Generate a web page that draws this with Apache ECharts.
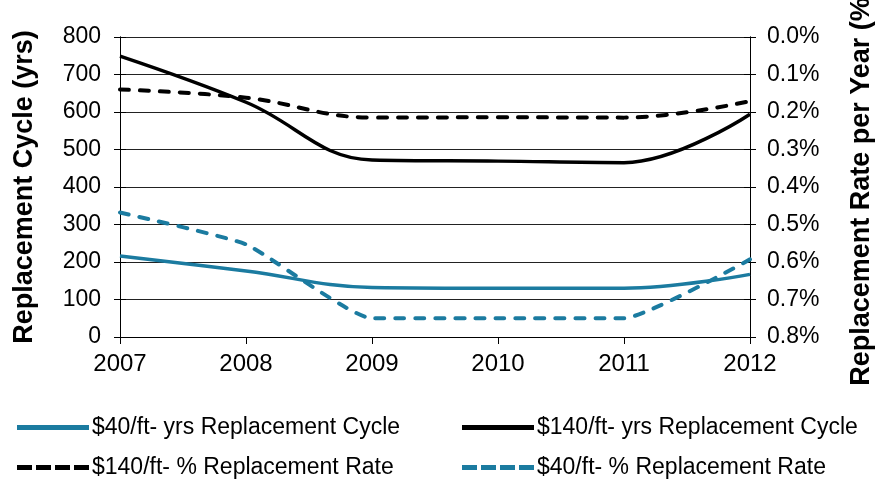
<!DOCTYPE html>
<html><head><meta charset="utf-8">
<script src="https://cdn.jsdelivr.net/npm/echarts@6/dist/echarts.min.js"></script>
<style>html,body{margin:0;padding:0;background:#fff;overflow:hidden}#c{width:875px;height:479px}</style>
</head><body><div id="c"></div>
<script>
const years = ['2007','2008','2009','2010','2011','2012'];
const cycle40 = [216, 176, 132, 130, 130, 167];
const cycle140 = [749, 626, 472, 469, 465, 594];
const rate140 = [0.140, 0.162, 0.215, 0.214, 0.215, 0.171];
const rate40 = [0.468, 0.553, 0.750, 0.750, 0.750, 0.593];
const leftTicks = [0, 100, 200, 300, 400, 500, 600, 700, 800];
const rightTicks = [0.0, 0.1, 0.2, 0.3, 0.4, 0.5, 0.6, 0.7, 0.8];

const teal = '#1B7BA0';
const font = 'Liberation Sans, Arial, sans-serif';
const solidIcon = 'path://M0,0h72v5h-72z';
const dashIcon = 'path://M0,0h15v5h-15zM19,0h15v5h-15zM38,0h15v5h-15zM57,0h15v5h-15z';
const chart = echarts.init(document.getElementById('c'));
const legendBase = {orient:'horizontal', itemWidth:72, itemHeight:5, itemGap:0,
  textStyle:{fontFamily:font, fontSize:23, color:'#000', padding:[0,0,0,-2]}};
function leg(left, top, name, icon){
  return Object.assign({left:left, top:top, data:[{name:name, icon:icon}]}, legendBase);
}
const tickAxisCommon = {axisLine:{show:true, lineStyle:{color:'#000'}}, splitLine:{show:false}, axisLabel:{show:false}};
chart.setOption({
  animation:false,
  grid:{left:120, right:125, top:37, bottom:142, containLabel:false, outerBoundsMode:'none'},
  legend:[
    leg(12, 411, '$40/ft- yrs Replacement Cycle', solidIcon),
    leg(457, 411, '$140/ft- yrs Replacement Cycle', solidIcon),
    leg(12, 451, '$140/ft- % Replacement Rate', dashIcon),
    leg(457, 451, '$40/ft- % Replacement Rate', dashIcon)
  ],
  xAxis:{type:'category', data:years, boundaryGap:false,
    axisLine:{lineStyle:{color:'#000', width:1}},
    axisTick:{show:true, length:7, lineStyle:{color:'#000'}},
    axisLabel:{fontFamily:font, fontSize:24, color:'#000', margin:15},
    splitLine:{show:false}},
  yAxis:[
    {type:'value', min:leftTicks[0], max:leftTicks[leftTicks.length-1], interval:100,
     name:'Replacement Cycle (yrs)', nameLocation:'middle', nameGap:82,
     nameTextStyle:{fontFamily:font, fontSize:27, fontWeight:'bold', color:'#000'},
     axisLine:{show:true, lineStyle:{color:'#000'}},
     axisTick:{show:true, inside:false, length:6, lineStyle:{color:'#000'}},
     axisLabel:{fontFamily:font, fontSize:23, color:'#000', margin:19},
     splitLine:{show:true, lineStyle:{color:'#222', width:1}}},
    {type:'value', min:rightTicks[0], max:rightTicks[rightTicks.length-1], interval:0.1, inverse:true,
     position:'right',
     name:'Replacement Rate per Year (%)', nameLocation:'middle', nameGap:98, nameRotate:90,
     nameTextStyle:{fontFamily:font, fontSize:27, fontWeight:'bold', color:'#000'},
     axisLine:{show:true, lineStyle:{color:'#000'}},
     axisTick:{show:true, length:6, lineStyle:{color:'#000'}},
     axisLabel:{fontFamily:font, fontSize:23, color:'#000', margin:17,
       formatter:v=>v.toFixed(1)+'%'},
     splitLine:{show:false}},
    Object.assign({type:'value', position:'left', min:0, max:800, interval:100,
      axisTick:{show:true, inside:true, length:6, lineStyle:{color:'#000'}}}, tickAxisCommon),
    Object.assign({type:'value', position:'right', min:0, max:0.8, interval:0.1,
      axisTick:{show:true, inside:true, length:6, lineStyle:{color:'#000'}}}, tickAxisCommon)
  ],
  series:[
    {name:'$40/ft- yrs Replacement Cycle', type:'line', yAxisIndex:0, data:cycle40, smooth:0.4,
     symbol:'none', lineStyle:{color:teal, width:3.5}, itemStyle:{color:teal}},
    {name:'$140/ft- yrs Replacement Cycle', type:'line', yAxisIndex:0, data:cycle140, smooth:0.4,
     symbol:'none', lineStyle:{color:'#000', width:3.5}, itemStyle:{color:'#000'}},
    {name:'$140/ft- % Replacement Rate', type:'line', yAxisIndex:1, data:rate140, smooth:0.4,
     symbol:'none', lineStyle:{color:'#000', width:4, type:[9,11], cap:'round'}, itemStyle:{color:'#000'}},
    {name:'$40/ft- % Replacement Rate', type:'line', yAxisIndex:1, data:rate40, smooth:0.15,
     symbol:'none', lineStyle:{color:teal, width:4, type:[9,11], cap:'round'}, itemStyle:{color:teal}}
  ]
});
</script></body></html>
